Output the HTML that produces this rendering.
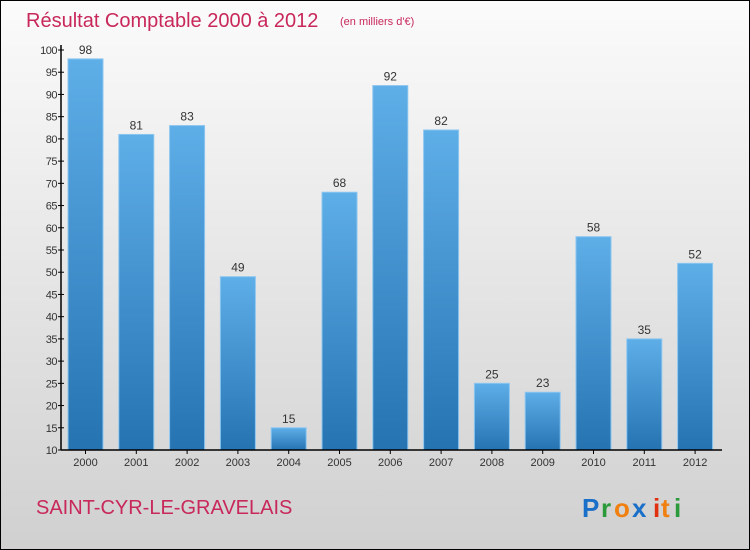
<!DOCTYPE html>
<html><head><meta charset="utf-8"><style>
html,body{margin:0;padding:0}
body{width:750px;height:550px;overflow:hidden;font-family:"Liberation Sans",sans-serif}
#wrap{position:absolute;left:0;top:0;width:748px;height:548px;border:1px solid #000;background:linear-gradient(#fbfbfb,#d0d0d0)}
</style></head><body>
<div id="wrap">
<svg id="chart" width="750" height="550" style="position:absolute;left:-1px;top:-1px">
<defs>
<linearGradient id="bg" x1="0" y1="0" x2="0" y2="1"><stop offset="0" stop-color="#5eaee8"/><stop offset="1" stop-color="#2673b2"/></linearGradient>
</defs>
<text x="26" y="27" font-size="20" fill="#c8285a">Résultat Comptable 2000 à 2012</text>
<text x="340" y="25" font-size="11" fill="#c8285a">(en milliers d'€)</text>
<text x="36" y="514" font-size="20" fill="#c8285a">SAINT-CYR-LE-GRAVELAIS</text>
<g font-size="26" font-weight="bold">
<text x="582" y="517" fill="#1a6fc8">P</text><text x="601" y="517" fill="#2a9a3a">r</text><text x="614" y="517" fill="#f08010">o</text><text x="632" y="517" fill="#1a6fc8">x</text><text x="653" y="517" fill="#e03010">i</text><text x="661" y="517" fill="#f08010">t</text><text x="674" y="517" fill="#2a9a3a">i</text>
</g>
<g id="plot"></g>
</svg>
</div>
<script>
const categories=["2000","2001","2002","2003","2004","2005","2006","2007","2008","2009","2010","2011","2012"];
const values=[98,81,83,49,15,68,92,82,25,23,58,35,52];
const yTicks=[10,15,20,25,30,35,40,45,50,55,60,65,70,75,80,85,90,95,100];
const NS="http://www.w3.org/2000/svg";
const g=document.getElementById("plot");
const y=v=>450-(v-10)*400/90;
const x=i=>85.5+i*50.8;
function mk(t,a){const e=document.createElementNS(NS,t);for(const k in a)e.setAttribute(k,a[k]);g.appendChild(e);return e;}
yTicks.forEach(t=>{
 const l=mk("line",{x1:58,x2:64,y1:y(t),y2:y(t),stroke:"#000"});
 
 
 const tx=mk("text",{x:57,y:y(t)+4,"font-size":11,"text-anchor":"end",fill:"#333","letter-spacing":"-0.5"});
 tx.textContent=t;
 
 
});
categories.forEach((c,i)=>{
 const v=values[i];
 const r=mk("rect",{x:x(i)-17.5,y:y(v),width:35,height:450-y(v),fill:"url(#bg)",stroke:"#8cc6f0","stroke-width":1});
 
 
 const vt=mk("text",{x:x(i),y:y(v)-5,"font-size":12,"text-anchor":"middle",fill:"#333"});
 vt.textContent=v;
 
 
 const tk=mk("line",{x1:x(i),x2:x(i),y1:450,y2:454,stroke:"#000"});
 
 
 const xt=mk("text",{x:x(i),y:466,"font-size":11,"text-anchor":"middle",fill:"#333"});
 xt.textContent=c;
 
 
});
const ya=mk("line",{x1:61,x2:61,y1:45,y2:450,stroke:"#000","stroke-width":1.5});


const xa=mk("line",{x1:61,x2:722,y1:450,y2:450,stroke:"#000","stroke-width":1.5});


</script>
</body></html>
